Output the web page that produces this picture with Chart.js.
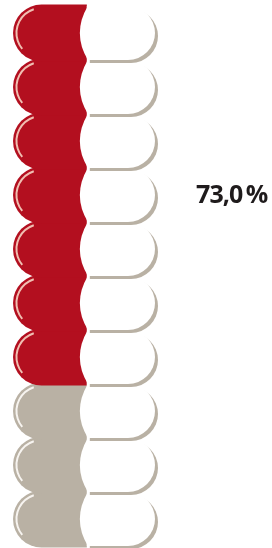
<!DOCTYPE html>
<html>
<head>
<meta charset="utf-8">
<script src="https://cdn.jsdelivr.net/npm/chart.js@4.4.1/dist/chart.umd.min.js"></script>
<style>
    html, body { margin: 0; padding: 0; background: #fff; }
    #wrap { position: relative; width: 272px; height: 548px; }
    #share {
        position: absolute; left: 196px; top: 181px;
        font: 700 25px/25px "Open Sans", sans-serif;
        color: #1f1b1c; letter-spacing: -0.9px; white-space: nowrap;
    }
</style>
</head>
<body>
<div id="wrap">
    <canvas id="pills" width="272" height="548"></canvas>
    <div id="share">73,0&#8201;%</div>
</div>
<script>
// 10 capsulas, 7 rellenas = 73,0 %
const pillLabels = ['1', '2', '3', '4', '5', '6', '7', '8', '9', '10'];
const pillFilled = [1, 1, 1, 1, 1, 1, 1, 0, 0, 0];
const shareValue = 73.0;

const RED = '#b30f1f';
const GREY = '#b9b1a4';

// se dibujan de abajo hacia arriba para que la sombra quede encima
const labels = pillLabels.slice().reverse();
const filled = pillFilled.slice().reverse();

// mitad izquierda (color) y mitad derecha (blanca) de cada capsula
const leftHalf = labels.map(() => [0, 0.52]);
const rightHalf = labels.map(() => [0.52, 1]);

const pillDeco = {
    id: 'pillDeco',
    beforeDatasetDraw(chart, args) {
        if (args.index !== 1) return;
        const ctx = chart.ctx;
        ctx.save();
        ctx.shadowColor = GREY;
        ctx.shadowOffsetX = 3;
        ctx.shadowOffsetY = 3;
        ctx.shadowBlur = 0;
    },
    afterDatasetDraw(chart, args) {
        const ctx = chart.ctx;
        const els = args.meta.data;
        if (args.index === 1) {
            ctx.restore();
            // borde curvo de la tapa blanca
            ctx.save();
            ctx.fillStyle = '#fff';
            els.forEach(el => {
                const top = el.y - el.height / 2;
                const bot = el.y + el.height / 2;
                ctx.beginPath();
                ctx.moveTo(el.base + 1, top);
                ctx.quadraticCurveTo(el.base - 15, el.y, el.base + 1, bot);
                ctx.closePath();
                ctx.fill();
            });
            ctx.restore();
        } else {
            // brillo en el extremo izquierdo
            ctx.save();
            ctx.lineWidth = 2;
            els.forEach((el, i) => {
                const r = el.height / 2;
                ctx.strokeStyle = filled[i] ? '#f0bfb2' : '#f7f4f0';
                ctx.beginPath();
                ctx.arc(el.base + r, el.y, r - 3.5, 1.4 * Math.PI, 0.78 * Math.PI, true);
                ctx.stroke();
            });
            ctx.restore();
        }
    }
};

new Chart(document.getElementById('pills'), {
    type: 'bar',
    data: {
        labels: labels,
        datasets: [{
            label: 'relleno',
            data: leftHalf,
            backgroundColor: filled.map(f => f ? RED : GREY),
            borderSkipped: false,
            borderRadius: { topLeft: 40, bottomLeft: 40, topRight: 0, bottomRight: 0 },
            barThickness: 57,
            inflateAmount: 0,
            order: 2,
            clip: false
        }, {
            label: 'vacio',
            data: rightHalf,
            backgroundColor: '#ffffff',
            borderSkipped: false,
            borderRadius: { topLeft: 0, bottomLeft: 0, topRight: 40, bottomRight: 40 },
            barThickness: 54,
            inflateAmount: 0,
            order: 1,
            clip: false
        }]
    },
    options: {
        indexAxis: 'y',
        responsive: false,
        animation: false,
        grouped: false,
        layout: { padding: { left: 13, right: 117, top: 6, bottom: 2 } },
        scales: {
            x: { display: false, min: 0, max: 1 },
            y: { display: false, reverse: true }
        },
        plugins: {
            legend: { display: false },
            tooltip: { enabled: false }
        }
    },
    plugins: [pillDeco]
});
</script>
</body>
</html>
